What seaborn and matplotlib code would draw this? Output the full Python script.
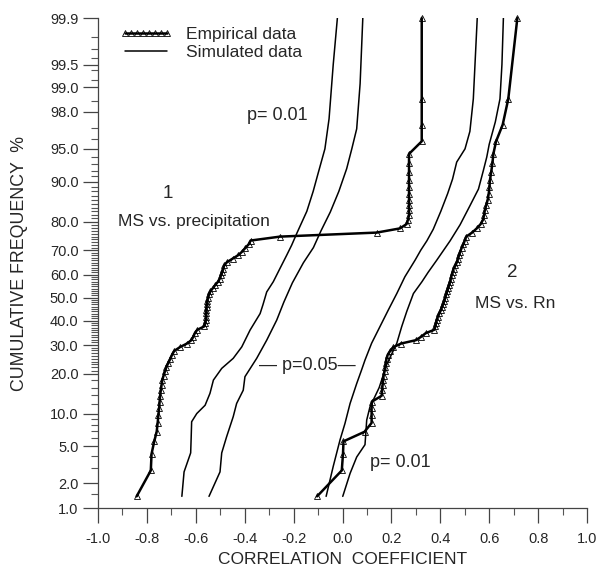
import numpy as np
import matplotlib
matplotlib.use("Agg")
import matplotlib.pyplot as plt
import seaborn as sns
from statistics import NormalDist
from matplotlib.ticker import FixedLocator, FixedFormatter

# cumulative frequency (%) of the 72 ranked coefficients (last one drawn at the axis top)
cum_freq = [1.4, 2.8, 4.2, 5.6, 6.9, 8.3, 9.7, 11.1, 12.5, 13.9, 15.3, 16.7,
            18.1, 19.4, 20.8, 22.2, 23.6, 25.0, 26.4, 27.8, 29.2, 30.6, 31.9, 33.3,
            34.7, 36.1, 37.5, 38.9, 40.3, 41.7, 43.1, 44.4, 45.8, 47.2, 48.6, 50.0,
            51.4, 52.8, 54.2, 55.6, 56.9, 58.3, 59.7, 61.1, 62.5, 63.9, 65.3, 66.7,
            68.1, 69.4, 70.8, 72.2, 73.6, 75.0, 76.4, 77.8, 79.2, 80.6, 81.9, 83.3,
            84.7, 86.1, 87.5, 88.9, 90.3, 91.7, 93.1, 94.4, 95.8, 97.2, 98.6, 99.9]

# empirical: MS vs. precipitation
emp_precip = [-0.842, -0.784, -0.781, -0.770, -0.760, -0.756, -0.753, -0.750, -0.748, -0.746,
              -0.743, -0.740, -0.737, -0.732, -0.726, -0.720, -0.712, -0.704, -0.697, -0.688,
              -0.665, -0.636, -0.618, -0.610, -0.604, -0.594, -0.566, -0.561, -0.559, -0.558,
              -0.557, -0.557, -0.556, -0.555, -0.553, -0.550, -0.546, -0.540, -0.530, -0.520,
              -0.510, -0.502, -0.497, -0.492, -0.488, -0.484, -0.472, -0.449, -0.426, -0.411,
              -0.398, -0.384, -0.376, -0.256, 0.140, 0.235, 0.262, 0.268, 0.272, 0.272,
              0.272, 0.272, 0.272, 0.272, 0.272, 0.272, 0.272, 0.272, 0.324, 0.324,
              0.324, 0.324]

# empirical: MS vs. Rn
emp_rn = [-0.104, -0.003, 0.002, 0.004, 0.090, 0.119, 0.119, 0.119, 0.120, 0.160,
          0.162, 0.164, 0.166, 0.168, 0.172, 0.175, 0.177, 0.180, 0.185, 0.195,
          0.208, 0.240, 0.300, 0.322, 0.340, 0.375, 0.380, 0.382, 0.385, 0.390,
          0.396, 0.402, 0.406, 0.412, 0.416, 0.420, 0.424, 0.428, 0.432, 0.436,
          0.440, 0.443, 0.446, 0.450, 0.454, 0.462, 0.468, 0.472, 0.477, 0.481,
          0.487, 0.494, 0.500, 0.506, 0.530, 0.549, 0.565, 0.575, 0.579, 0.582,
          0.588, 0.594, 0.598, 0.601, 0.603, 0.608, 0.613, 0.617, 0.628, 0.655,
          0.678, 0.715]

# simulated bounds, precipitation side
sim1_p01_x = [-0.657, -0.648, -0.621, -0.619, -0.617, -0.596, -0.562, -0.542, -0.528, -0.494,
              -0.447, -0.412, -0.378, -0.337, -0.325, -0.310, -0.283, -0.256, -0.228, -0.208,
              -0.185, -0.146, -0.120, -0.100, -0.072, -0.055, -0.038, -0.021]
sim1_p01_y = [1.4, 2.7, 4.3, 6.0, 8.5, 10.0, 11.7, 14.5, 18.1, 21.7,
              25.1, 29.3, 36.0, 43.0, 47.0, 52.5, 57.0, 62.6, 68.1, 71.9,
              76.5, 83.0, 88.0, 91.5, 95.0, 97.6, 99.5, 99.9]
sim1_p05_x = [-0.546, -0.501, -0.494, -0.474, -0.447, -0.433, -0.406, -0.399, -0.351, -0.310,
              -0.269, -0.240, -0.205, -0.160, -0.119, -0.088, -0.050, -0.015, 0.017, 0.038,
              0.058, 0.072, 0.083]
sim1_p05_y = [1.4, 2.7, 4.3, 6.2, 9.4, 12.1, 15.3, 19.1, 25.1, 31.9,
              40.2, 48.0, 56.5, 65.0, 71.0, 77.0, 82.8, 88.0, 92.3, 95.0,
              96.9, 99.1, 99.9]

# simulated bounds, Rn side
sim2_p05_x = [-0.067, -0.038, -0.010, 0.010, 0.031, 0.058, 0.078, 0.092, 0.119, 0.153,
              0.187, 0.222, 0.255, 0.297, 0.320, 0.345, 0.371, 0.402, 0.430, 0.450,
              0.467, 0.501, 0.521, 0.535, 0.551]
sim2_p05_y = [1.4, 3.1, 5.8, 8.2, 12.1, 17.1, 21.2, 24.5, 30.7, 37.4,
              44.5, 51.8, 59.1, 66.1, 70.0, 73.5, 77.5, 83.0, 87.5, 90.5,
              93.3, 95.0, 96.7, 98.6, 99.9]
sim2_p01_x = [0.001, 0.031, 0.058, 0.092, 0.099, 0.112, 0.150, 0.181, 0.222, 0.242,
              0.263, 0.290, 0.325, 0.350, 0.385, 0.440, 0.481, 0.521, 0.556, 0.576,
              0.590, 0.600, 0.625, 0.644, 0.652, 0.658]
sim2_p01_y = [1.4, 2.6, 3.9, 5.2, 8.8, 11.3, 16.0, 23.0, 30.7, 37.4,
              44.0, 51.8, 57.0, 61.0, 66.0, 73.5, 79.0, 84.5, 88.5, 92.0,
              94.0, 95.5, 97.4, 98.6, 99.5, 99.9]

y_major = [1.0, 2.0, 5.0, 10.0, 20.0, 30.0, 40.0, 50.0, 60.0, 70.0, 80.0,
           90.0, 95.0, 98.0, 99.0, 99.5, 99.9]
y_minor = ([1.5, 3, 4, 6, 7, 8, 9, 12, 14, 16, 18]
           + [v for v in range(21, 90) if v % 10 != 0]
           + [91, 92, 93, 94, 96, 97, 98.5, 99.2, 99.4, 99.6, 99.7, 99.8])
x_major = [-1.0, -0.8, -0.6, -0.4, -0.2, 0.0, 0.2, 0.4, 0.6, 0.8, 1.0]
x_minor = [-0.9, -0.7, -0.5, -0.3, -0.1, 0.1, 0.3, 0.5, 0.7, 0.9]

_nd = NormalDist()


def _ppf(v):
    if np.isnan(v):
        return np.nan
    v = min(max(v, 1e-4), 100 - 1e-4)
    return _nd.inv_cdf(v / 100.0)


def _cdf(v):
    if np.isnan(v):
        return np.nan
    return _nd.cdf(v) * 100.0


to_probit = np.vectorize(_ppf, otypes=[float])
from_probit = np.vectorize(_cdf, otypes=[float])

sns.set_style("ticks")
plt.rcParams["font.family"] = ["Liberation Sans", "DejaVu Sans"]

fig = plt.figure(figsize=(5.99, 5.67), dpi=100)
ax = fig.add_axes([0.1636, 0.104, 0.8164, 0.864])

emp_kw = dict(sort=False, estimator=None, color="black", linewidth=1.8, marker="^",
              markersize=4.3, markerfacecolor="none", markeredgecolor="black",
              markeredgewidth=0.6, ax=ax)
sim_kw = dict(sort=False, estimator=None, color="black", linewidth=1.1, ax=ax)

sns.lineplot(x=sim1_p01_x, y=sim1_p01_y, **sim_kw)
sim_line = ax.lines[-1]
sns.lineplot(x=sim1_p05_x, y=sim1_p05_y, **sim_kw)
sns.lineplot(x=sim2_p05_x, y=sim2_p05_y, **sim_kw)
sns.lineplot(x=sim2_p01_x, y=sim2_p01_y, **sim_kw)
sns.lineplot(x=emp_precip, y=cum_freq, **emp_kw)
emp_line = ax.lines[-1]
emp_line.set_clip_on(False)
sns.lineplot(x=emp_rn, y=cum_freq, **emp_kw)
ax.lines[-1].set_clip_on(False)

ax.set_yscale("function", functions=(to_probit, from_probit))
ax.set_ylim(1.0, 99.9)
ax.set_xlim(-1.0, 1.0)

ax.yaxis.set_major_locator(FixedLocator(y_major))
ax.yaxis.set_major_formatter(FixedFormatter([f"{v:.1f}" for v in y_major]))
ax.yaxis.set_minor_locator(FixedLocator(y_minor))
ax.xaxis.set_major_locator(FixedLocator(x_major))
ax.xaxis.set_major_formatter(FixedFormatter([f"{v:.1f}" for v in x_major]))
ax.xaxis.set_minor_locator(FixedLocator(x_minor))

# lengths in points (about 15 px and 7 px at 100 dpi)
ax.tick_params(axis="both", which="major", direction="out", length=11, width=0.9,
               labelsize=10.5, color="#444444")
ax.tick_params(axis="x", which="major", pad=6.5)
ax.tick_params(axis="y", which="major", pad=3)
ax.tick_params(axis="both", which="minor", direction="out", length=5, width=0.8,
               color="#555555")
sns.despine(ax=ax)
for s in ("left", "bottom"):
    ax.spines[s].set_linewidth(0.9)
    ax.spines[s].set_color("#444444")

ax.set_xlabel("CORRELATION  COEFFICIENT", fontsize=12.5)
ax.set_ylabel("CUMULATIVE FREQUENCY  %", fontsize=12.8)
ax.xaxis.set_label_coords(0.5, -0.09)
ax.yaxis.set_label_coords(-0.143, 0.5)

ax.legend([emp_line, sim_line], ["Empirical data", "Simulated data"],
          loc="upper left", bbox_to_anchor=(0.045, 0.982), frameon=False,
          fontsize=12.5, handlelength=3.0, handletextpad=0.8, labelspacing=0.15,
          borderpad=0, borderaxespad=0, numpoints=8)

ax.text(-0.39, 97.8, "p= 0.01", fontsize=13, va="center", ha="left")
ax.text(-0.714, 87.6, "1", fontsize=13.5, va="center", ha="center")
ax.text(-0.918, 80.1, "MS vs. precipitation", fontsize=12.5, va="center", ha="left")
ax.text(-0.143, 22.5, "\u2014 p=0.05\u2014", fontsize=13, va="center", ha="center")
ax.text(0.112, 3.45, "p= 0.01", fontsize=13, va="center", ha="left")
ax.text(0.693, 61.1, "2", fontsize=13.5, va="center", ha="center")
ax.text(0.542, 47.6, "MS vs. Rn", fontsize=12.5, va="center", ha="left")

fig.savefig("out.png", dpi=100)
